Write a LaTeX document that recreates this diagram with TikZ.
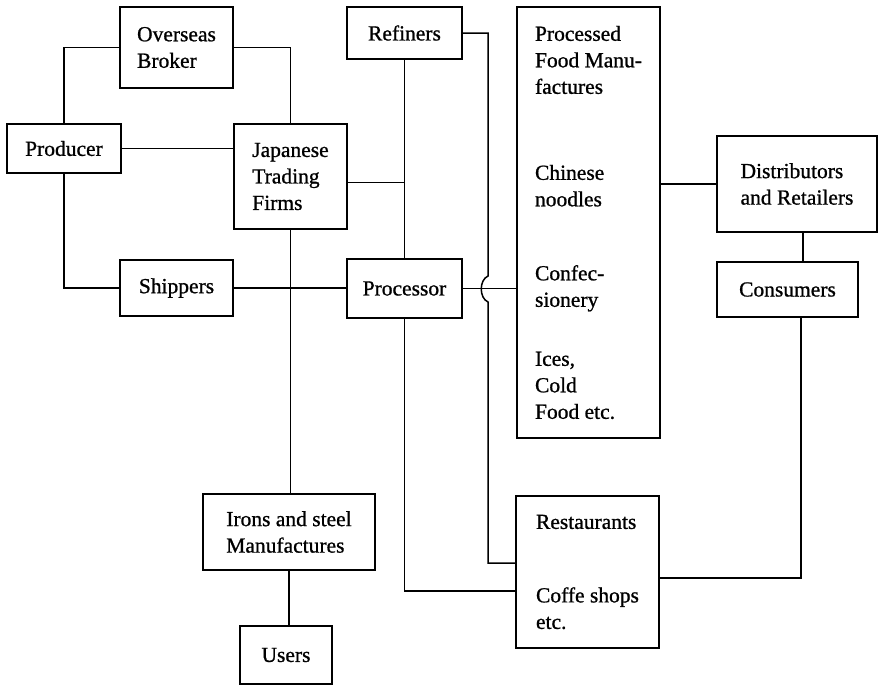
\documentclass[tikz,border=0pt]{standalone}
\usepackage{fontspec}
\setmainfont{Liberation Serif}[BoldFont={Liberation Serif}, BoldFeatures={FakeBold=0.9}]
\usetikzlibrary{positioning}

\begin{document}
\begin{tikzpicture}[
    x=1pt, y=-1pt,
    font=\fontsize{21.5}{26.5}\selectfont\bfseries,
    box/.style={draw, line width=1.8pt, align=left, inner sep=0pt},
    link/.style={line width=1.5pt, line join=miter}
]
\useasboundingbox (0,0) rectangle (879,686);

%
\node[box, minimum width=113pt, minimum height=81pt] (broker) at (176.5,47.5) {Overseas\\Broker};
\node[box, minimum width=114pt, minimum height=49pt] (producer) at (64,148.5) {Producer};
\node[box, minimum width=113pt, minimum height=105pt] (trading) at (290.5,176.5) {Japanese\\Trading\\Firms};
\node[box, minimum width=113pt, minimum height=56pt] (shippers) at (176.5,288) {Shippers};
\node[box, minimum width=115pt, minimum height=52pt] (refiners) at (404.5,33) {Refiners};
\node[box, minimum width=115pt, minimum height=59pt] (processor) at (404.5,288.5) {Processor};
\node[box, minimum width=172pt, minimum height=76pt] (irons) at (289,532) {Irons and steel\\Manufactures};
\node[box, minimum width=92pt, minimum height=58pt] (users) at (286,655) {Users};

%
\node[box, minimum width=143pt, minimum height=431pt] (processed) at (588.5,222.5)
    {Processed\\Food Manu-\\factures\\[59.5pt]
     Chinese\\noodles\\[47.5pt]
     Confec-\\sionery\\[32.5pt]
     Ices,\\Cold\\Food etc.};
\node[box, minimum width=143pt, minimum height=152pt] (restaurants) at (587.5,572)
    {Restaurants\\[47pt]Coffe shops\\etc.};
\node[box, minimum width=160pt, minimum height=96pt] (distributors) at (797,184) {Distributors\\and Retailers};
\node[box, minimum width=141pt, minimum height=55pt] (consumers) at (787.5,289.5) {Consumers};

%
\coordinate (hoptop) at (488,276);
\coordinate (hopbot) at (488,302);

\draw[link] (producer.north) |- (broker.west);
\draw[link] (broker.east) -| (trading.north);
\draw[link] (producer.east) -- (producer.east -| trading.west);
\draw[link] (producer.south) |- (shippers.west);
\draw[link] (shippers.east) -- (shippers.east -| processor.west);
\draw[link] (trading.south) -- (trading.south |- irons.north);
\draw[link] (irons.south) -- (irons.south |- users.north);
\draw[link] (refiners.south) -- (processor.north);
\draw[link] ([yshift=-6pt]trading.east) -- ([yshift=-6pt]trading.east -| refiners.south);
\draw[link] (refiners.east) -| (hoptop)
    .. controls (479,280) and (479,298) .. (hopbot)
    |- ([yshift=9pt]restaurants.west);
\draw[link] (processor.east) -- (processor.east -| processed.west);
\draw[link] (processor.south) |- ([yshift=-19pt]restaurants.west);
\draw[link] (distributors.west -| processed.east) -- (distributors.west);
\draw[link] ([xshift=6pt]distributors.south) -- ([xshift=6pt]distributors.south |- consumers.north);
\draw[link] ([xshift=13.5pt]consumers.south) |- ([yshift=-6pt]restaurants.east);
\end{tikzpicture}
\end{document}
